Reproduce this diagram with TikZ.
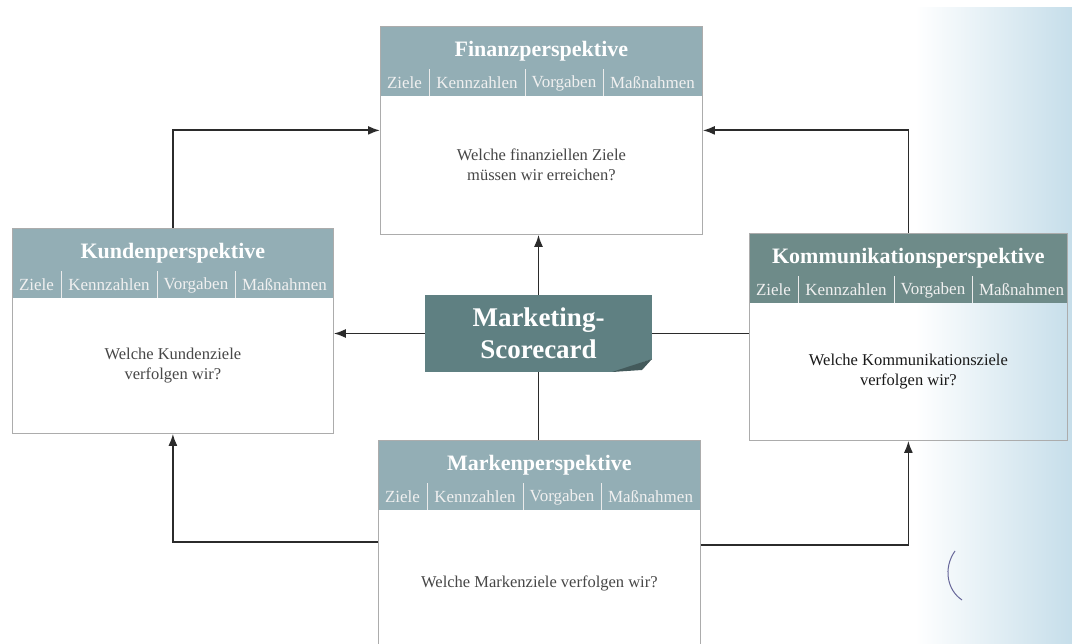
\documentclass[tikz,border=0pt]{standalone}
\usepackage{fontspec}
\setmainfont{Liberation Serif}
\usetikzlibrary{arrows.meta,calc}
\definecolor{hdrlight}{HTML}{93AEB5}
\definecolor{hdrdark}{HTML}{6E8B89}
\definecolor{mccol}{HTML}{5F8082}
\definecolor{linecol}{HTML}{2B2B2B}
\definecolor{tint}{HTML}{C6DEEA}
\newcommand\persp[9]{%
  \fill[#6] (#2,#3) rectangle ++(#4,70);
  \node[pbox, minimum width=#4pt, minimum height=#5pt] (#1) at (#2,#3) {};
  \node[ttl] (#1-t) at ($(#1.north)+(0,25)$) {#7};
  \node[sublbl] (#1-s1) at ($(#1.north west)+(24.5,57)$) {Ziele};
  \node[sublbl] (#1-s2) at ($(#1.north west)+(97,57)$) {Kennzahlen};
  \node[sublbl] (#1-s3) at ($(#1.north west)+(184,57)$) {Vorgaben};
  \node[sublbl] (#1-s4) at ($(#1.north west)+(272.5,57)$) {Maßnahmen};
  \draw[sep] ($(#1.north west)+(49,43)$) -- ++(0,27);
  \draw[sep] ($(#1.north west)+(145,43)$) -- ++(0,27);
  \draw[sep] ($(#1.north west)+(223,43)$) -- ++(0,27);
  \node[bodytxt, text=#9] (#1-b) at ($(#1.north)+(0,{70+(#5-70)/2})$) {#8};
}
\begin{document}
\begin{tikzpicture}[x=1pt,y=-1pt,
  pbox/.style={draw=gray!65, line width=0.8pt, inner sep=0pt, anchor=north west},
  ttl/.style={font=\bfseries\fontsize{22}{24}\selectfont, text=white, inner sep=0pt},
  sublbl/.style={font=\fontsize{17}{19}\selectfont, text=white!94!black, inner sep=0pt},
  sep/.style={draw=white!92!black, line width=1pt},
  bodytxt/.style={font=\fontsize{16.5}{20.5}\selectfont, align=center, inner sep=0pt},
  conn/.style={draw=linecol, line width=1.8pt},
  arr/.style={conn, -{Latex[length=12pt,width=9pt]}},
]
\useasboundingbox (0,0) rectangle (1072,644);
\fill[white] (0,0) rectangle (1072,644);
\shade[left color=white, right color=tint] (915,8) rectangle (1072,644);

\persp{fin}{380}{26}{322}{208}{hdrlight}{Finanzperspektive}{Welche finanziellen Ziele\\müssen wir erreichen?}{black!72}
\persp{kund}{12}{228}{321}{205}{hdrlight}{Kundenperspektive}{Welche Kundenziele\\verfolgen wir?}{black!72}
\persp{komm}{749}{233}{318}{207}{hdrdark}{Kommunikationsperspektive}{Welche Kommunikationsziele\\verfolgen wir?}{black!90}
\persp{mark}{378}{440}{322}{216}{hdrlight}{Markenperspektive}{Welche Markenziele verfolgen wir?}{black!72}

\node[fill=mccol, minimum width=227pt, minimum height=77pt, inner sep=0pt,
      text=white, align=center, font=\bfseries\fontsize{27}{32}\selectfont]
      (mc) at (538.5,333.5) {Marketing-\\Scorecard};
\fill[white] (612,373) -- (653,373) -- (653,359) -- cycle;
\fill[mccol!70!black] (612,372) -- (652,359) -- (642,370) -- cycle;

\draw[arr] (mc.north) -- (mc.north |- fin.south);
\draw[conn] (mc.south) -- (mc.south |- mark.north);
\draw[arr] (mc.west) -- (mc.west -| kund.east);
\draw[conn] (mc.east) -- (mc.east -| komm.west);
\draw[arr] (kund.north) |- (fin.west);
\draw[arr] (komm.north) |- (fin.east);
\coordinate (ml) at ($(mark.north west)+(0,102)$);
\coordinate (mr) at ($(mark.north east)+(0,105)$);
\draw[arr] (ml) -| (kund.south);
\draw[arr] (mr) -| (komm.south);

\draw[gray!80!blue, line width=1pt] (955,551) .. controls (943,568) and (947,590) .. (962,600);
\end{tikzpicture}
\end{document}
